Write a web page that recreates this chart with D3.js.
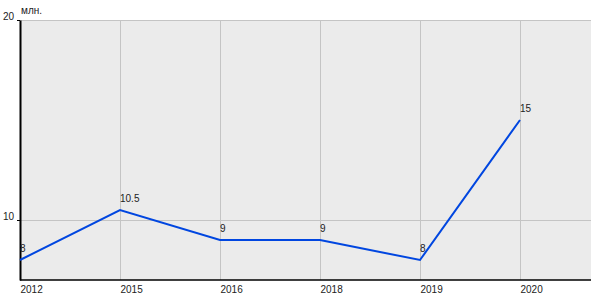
<!DOCTYPE html>
<html lang="ru">
<head>
<meta charset="UTF-8">
<script src="https://d3js.org/d3.v7.min.js"></script>
<style>
  body { margin: 0; background: #fff; }
  text { font-family: Arial, "Liberation Sans", sans-serif; font-size: 10px; fill: #222; }
</style>
</head>
<body>
<svg width="600" height="300"></svg>
<script>
const years = ["2012", "2015", "2016", "2018", "2019", "2020"];
const values = [8, 10.5, 9, 9, 8, 15];
const yTicks = [10, 20];
const unit = "млн.";

const margin = { top: 20, right: 9, bottom: 20, left: 20 },
    width = 600 - margin.left - margin.right,
    height = 300 - margin.top - margin.bottom;

const svg = d3.select("svg")
    .append("g")
    .attr("transform", `translate(${margin.left},${margin.top})`);

const x = d3.scalePoint()
    .domain(years)
    .range([0, 500]);

const y = d3.scaleLinear()
    .domain([7, 20])
    .range([height, 0]);

svg.append("rect")
    .attr("width", width)
    .attr("height", height)
    .attr("fill", "#ebebeb");

// grid
svg.append("g")
    .selectAll("line")
    .data(years)
    .enter().append("line")
    .attr("x1", d => x(d) + 0.5).attr("x2", d => x(d) + 0.5)
    .attr("y1", 0).attr("y2", height)
    .attr("stroke", "#c4c4c4");

svg.append("g")
    .selectAll("line")
    .data(yTicks)
    .enter().append("line")
    .attr("x1", 0).attr("x2", width)
    .attr("y1", d => y(d) + 0.5).attr("y2", d => y(d) + 0.5)
    .attr("stroke", "#c4c4c4");

// axes
const yAxis = svg.append("g")
    .call(d3.axisLeft(y).tickValues(yTicks).tickSize(3).tickSizeOuter(0));
yAxis.select(".domain").attr("stroke", "#000").attr("stroke-width", 2);
yAxis.selectAll(".tick text").attr("dy", "-0.1em").attr("x", -6);

const xAxis = svg.append("g")
    .attr("transform", `translate(0,${height})`)
    .call(d3.axisBottom(x).tickSize(0).tickSizeOuter(0));
xAxis.select(".domain").attr("stroke", "#000").attr("stroke-width", 1.5)
    .attr("d", `M0,0H${width}`);
xAxis.selectAll(".tick text").attr("text-anchor", "start").attr("y", 6).attr("dy", "0.71em");

svg.append("text")
    .attr("x", 1)
    .attr("y", -6)
    .text(unit);

// line
const pts = years.map((d, i) => ({ year: d, value: values[i] }));

svg.append("path")
    .datum(pts)
    .attr("fill", "none")
    .attr("stroke", "#0046e0")
    .attr("stroke-width", 2)
    .attr("d", d3.line().x(d => x(d.year)).y(d => y(d.value)));

svg.append("g")
    .selectAll("text")
    .data(pts)
    .enter().append("text")
    .attr("x", d => x(d.year))
    .attr("y", d => y(d.value) - 8)
    .text(d => d.value);
</script>
</body>
</html>
